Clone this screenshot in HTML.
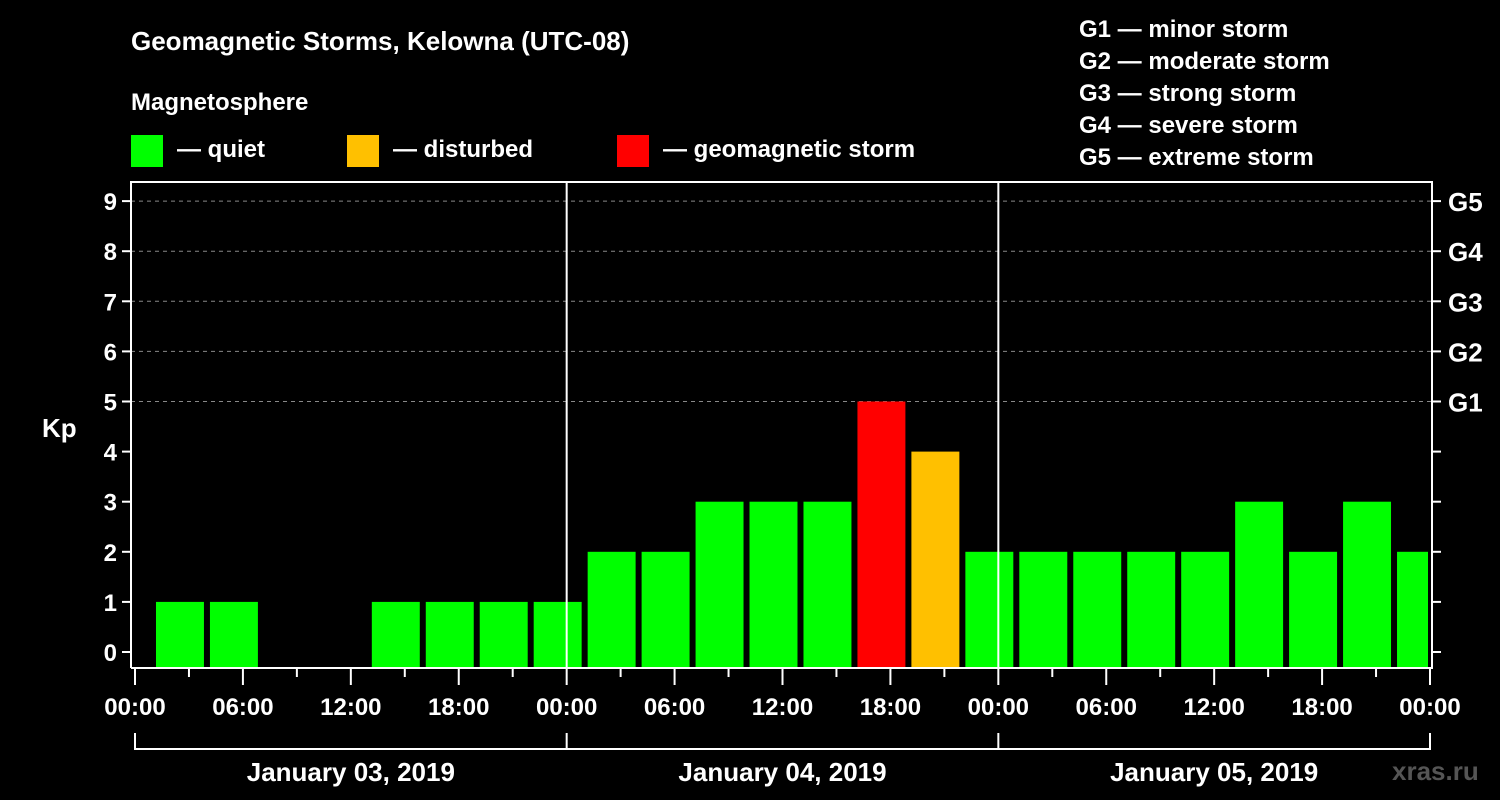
<!DOCTYPE html>
<html><head><meta charset="utf-8"><style>
html,body{margin:0;padding:0;background:#000;}
svg{display:block;font-family:"Liberation Sans",Arial,sans-serif;font-weight:bold;}
</style></head><body>
<svg id="chart" width="1500" height="800" viewBox="0 0 1500 800">
<rect width="1500" height="800" fill="#000"/>
<text x="131" y="50" fill="#fff" font-size="26">Geomagnetic Storms, Kelowna (UTC-08)</text>
<text x="131" y="110" fill="#fff" font-size="24">Magnetosphere</text>
<g><rect x="131" y="135" width="32" height="32" fill="#00ff00"/><text x="177" y="157" fill="#fff" font-size="24">— quiet</text></g>
<g><rect x="347" y="135" width="32" height="32" fill="#ffc000"/><text x="393" y="157" fill="#fff" font-size="24">— disturbed</text></g>
<g><rect x="617" y="135" width="32" height="32" fill="#ff0000"/><text x="663" y="157" fill="#fff" font-size="24">— geomagnetic storm</text></g>
<g fill="#fff" font-size="24">
<text x="1079" y="37">G1 — minor storm</text>
<text x="1079" y="69">G2 — moderate storm</text>
<text x="1079" y="101">G3 — strong storm</text>
<text x="1079" y="133">G4 — severe storm</text>
<text x="1079" y="165">G5 — extreme storm</text>
</g>
<text x="42" y="437" fill="#fff" font-size="26">Kp</text>
<text x="1392" y="780" fill="#555" font-size="26">xras.ru</text>
<g id="plot"></g>
</svg>
<script>
const kpValues = [1,1,0,0,1,1,1,1, 2,2,3,3,3,5,4,2, 2,2,2,2,3,2,3,2];
const intervalStartHours = [1,4,7,10,13,16,19,22,25,28,31,34,37,40,43,46,49,52,55,58,61,64,67,70];
const yTicks = [0,1,2,3,4,5,6,7,8,9];
const gLabels = ["","","","","","G1","G2","G3","G4","G5"];
const xTickLabels = ["00:00","06:00","12:00","18:00","00:00","06:00","12:00","18:00","00:00","06:00","12:00","18:00","00:00"];
const dayLabels = ["January 03, 2019","January 04, 2019","January 05, 2019"];

const NS="http://www.w3.org/2000/svg";
const X0=135, X1=1430, L=131, R=1432, TOP=182, BOT=668;
const x = h => X0 + h*(X1-X0)/72;
const y = v => 652 - v*50.1;
const plot=document.getElementById('plot');
function mk(tag,attrs,parent){const e=document.createElementNS(NS,tag);for(const k in attrs)e.setAttribute(k,attrs[k]);(parent||plot).appendChild(e);return e;}
function color(v){return v>=5?'#ff0000':(v>=4?'#ffc000':'#00ff00');}

// gridlines
yTicks.forEach(v=>{ if(v>=5){
  const g=mk('line',{x1:L,x2:R,y1:y(v),y2:y(v),stroke:'#888','stroke-dasharray':'4,4','stroke-width':1});
  
  
}});
// bars
kpValues.forEach((v,i)=>{
  if(v<=0) return;
  const a=x(intervalStartHours[i])+3, b=Math.min(x(intervalStartHours[i]+3)-3, x(72)-2);
  const r=mk('rect',{x:a,y:y(v),width:b-a,height:BOT-y(v),fill:color(v)});
  
  
});
// frame
const f=mk('path',{d:`M${L} ${BOT}V${TOP}H${R}V${BOT}H${L}`,fill:'none',stroke:'#fff','stroke-width':2});


[24,48].forEach(h=>{
  const d=mk('line',{x1:x(h),x2:x(h),y1:TOP,y2:BOT,stroke:'#fff','stroke-width':2});
  
  
});
// y ticks
yTicks.forEach((v,i)=>{
  mk('line',{x1:L-9,x2:L,y1:y(v),y2:y(v),stroke:'#fff','stroke-width':2});
  mk('line',{x1:R,x2:R+9,y1:y(v),y2:y(v),stroke:'#fff','stroke-width':2});
  const t=mk('text',{x:L-14,y:y(v)+9,fill:'#fff','font-size':24,'text-anchor':'end'});
  t.textContent=v;
  
  
  if(gLabels[i]){
    const g=mk('text',{x:R+16,y:y(v)+10,fill:'#fff','font-size':26});
    g.textContent=gLabels[i];
    
    
  }
});
// x ticks
for(let h=0;h<=72;h+=3){
  mk('line',{x1:x(h),x2:x(h),y1:BOT,y2:BOT+(h%6===0?17:9),stroke:'#fff','stroke-width':2});
}
xTickLabels.forEach((s,i)=>{
  const t=mk('text',{x:x(i*6),y:715,fill:'#fff','font-size':24,'text-anchor':'middle'});
  t.textContent=s;
  
  
});
// day bracket
const br=mk('line',{x1:x(0),x2:x(72),y1:749,y2:749,stroke:'#fff','stroke-width':2});


[0,24,48,72].forEach(h=>mk('line',{x1:x(h),x2:x(h),y1:733,y2:750,stroke:'#fff','stroke-width':2}));
dayLabels.forEach((s,i)=>{
  const t=mk('text',{x:x(i*24+12),y:781,fill:'#fff','font-size':26,'text-anchor':'middle'});
  t.textContent=s;
  
  
});
</script>
</body></html>
